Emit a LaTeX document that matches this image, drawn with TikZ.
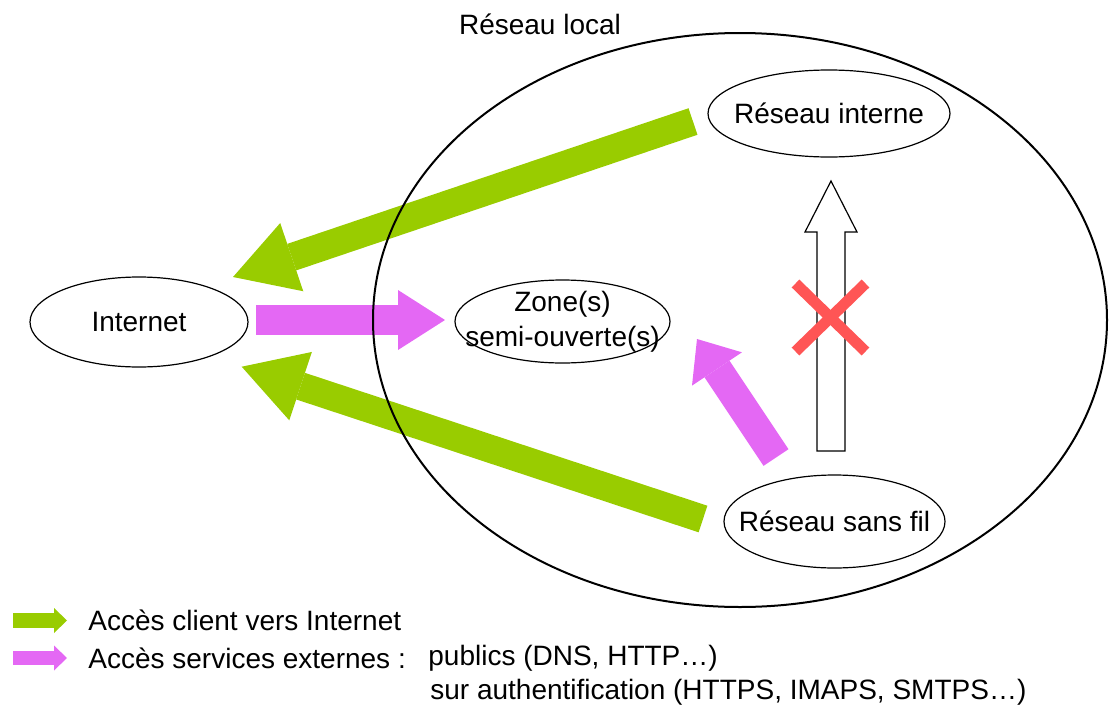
\documentclass[tikz,border=0pt]{standalone}
\usepackage{fontspec}
\setmainfont{Liberation Sans}
\usetikzlibrary{arrows.meta,shapes.geometric,calc}
\definecolor{vert}{RGB}{153,204,0}
\definecolor{rose}{RGB}{228,104,244}
\definecolor{rouge}{RGB}{255,85,85}

\begin{document}
\begin{tikzpicture}[x=0.5pt,y=-0.5pt,
		font=\fontsize{14}{17.5}\selectfont,
		zone/.style={ellipse,draw,line width=0.6pt,inner sep=0pt},
		client/.style={vert,line width=14pt,-{Triangle[width=36pt,length=31pt,line width=0pt]}},
		service/.style={rose,line width=15pt,-{Triangle[width=30pt,length=23.5pt,line width=0pt]}}]
		\useasboundingbox (0,0) rectangle (1109,707);
		% Noeuds
		\node[zone,minimum width=109pt,minimum height=45pt,label=center:Internet] (internet) at (139,322) {};
		\node[zone,minimum width=121pt,minimum height=43.5pt,label=center:Réseau interne] (interne) at (829,113.5) {};
		\node[zone,minimum width=107.5pt,minimum height=41.5pt,
			label={[align=center]center:Zone(s)\\semi-ouverte(s)}] (dmz) at (562.5,321.5) {};
		\node[zone,minimum width=110.5pt,minimum height=46.5pt,label=center:Réseau sans fil] (wifi) at (834.5,521.5) {};
		% Bouts des fleches
		\coordinate (interne-out) at (693,121.5);
		\coordinate (internet-in1) at (233,277);
		\coordinate (wifi-out1) at (703,519);
		\coordinate (internet-in2) at (241.7,366.7);
		\coordinate (internet-out) at (256,320);
		\coordinate (dmz-in1) at (445,320);
		\coordinate (wifi-out2) at (776,457.5);
		\coordinate (dmz-in2) at (697,339);
		% Acces client vers Internet
		\draw[client] (interne-out) -- (internet-in1);
		\draw[client] (wifi-out1) -- (internet-in2);
		% Acces services externes
		\draw[service] (internet-out) -- (dmz-in1);
		\draw[service,-{Triangle[width=30pt,length=18pt,line width=0pt]}] (wifi-out2) -- (dmz-in2);
		% Fleche interdite
		\coordinate (bas) at (831,451);
		\coordinate (pointe) at (831,181);
		\draw[line width=0.6pt,fill=white] ($(bas)+(-14,0)$) -- ($(pointe)+(-14,51)$) -- ($(pointe)+(-26,51)$)
			-- (pointe) -- ($(pointe)+(26,51)$) -- ($(pointe)+(14,51)$) -- ($(bas)+(14,0)$) -- cycle;
		\coordinate (croix) at (830.5,317.5);
		\draw[rouge,line width=5.5pt] ($(croix)+(-35,-34)$) -- ($(croix)+(35,34)$);
		\draw[rouge,line width=5.5pt] ($(croix)+(-35,34)$) -- ($(croix)+(35,-34)$);
		% Reseau local
		\draw[line width=1pt] (740,320) ellipse [x radius=183.5pt,y radius=143.5pt];
		\node (local) at (540,24) {Réseau local};
		% Legende
		\coordinate (lg1a) at (13,620.5);
		\coordinate (lg1b) at (67,620.5);
		\coordinate (lg2a) at (13,658);
		\coordinate (lg2b) at (67,658);
		\draw[client,line width=7.5pt,-{Triangle[width=12.5pt,length=6.5pt,line width=0pt]}] (lg1a) -- (lg1b);
		\draw[service,line width=7pt,-{Triangle[width=12.5pt,length=6.5pt,line width=0pt]}] (lg2a) -- (lg2b);
		\node[anchor=west,inner sep=0pt] (txt1) at (88,620.5) {Accès client vers Internet};
		\node[anchor=west,inner sep=0pt] (txt2) at (88,658) {Accès services externes :};
		\node[anchor=west,inner sep=0pt] (txt3) at (428,658) {publics (DNS, HTTP…)};
		\node[anchor=west,inner sep=0pt] (txt4) at (430,692) {sur authentification (HTTPS, IMAPS, SMTPS…)};
	\end{tikzpicture}
\end{document}
